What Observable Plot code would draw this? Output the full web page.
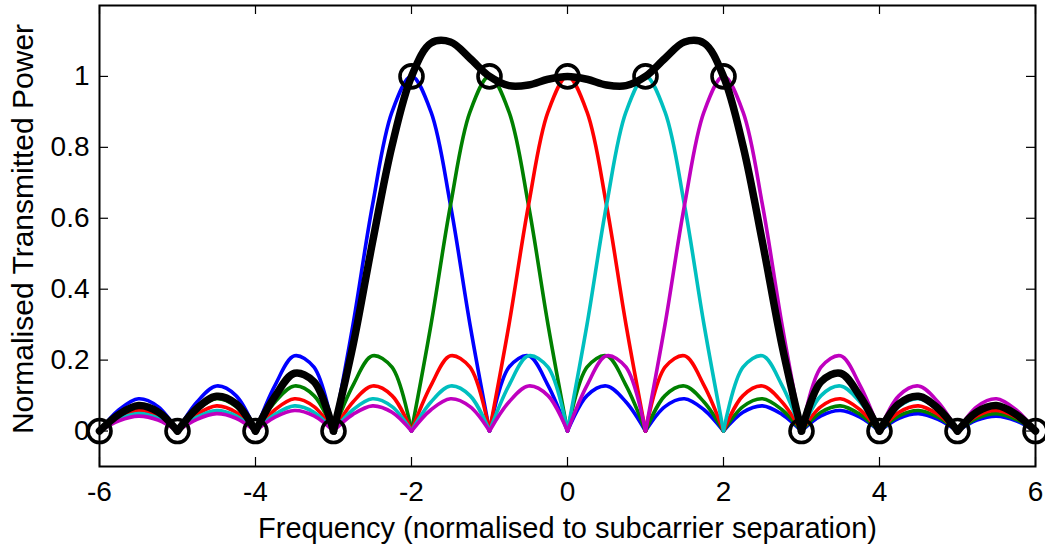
<!DOCTYPE html>
<html>
<head>
<meta charset="utf-8">
<script src="https://cdn.jsdelivr.net/npm/d3@7"></script>
<script src="https://cdn.jsdelivr.net/npm/@observablehq/plot@0.6"></script>
<style>
  html, body { margin: 0; padding: 0; background: #fff; }
  #chart svg { display: block; }
</style>
</head>
<body>
<div id="chart"></div>
<script>
// Frequency grid (normalised to subcarrier separation)
const freq = [-6,-5.75,-5.5,-5.25,-5,-4.75,-4.5,-4.25,-4,-3.75,-3.5,-3.25,-3,-2.75,-2.5,-2.25,-2,-1.75,-1.5,-1.25,-1,-0.75,-0.5,-0.25,0,0.25,0.5,0.75,1,1.25,1.5,1.75,2,2.25,2.5,2.75,3,3.25,3.5,3.75,4,4.25,4.5,4.75,5,5.25,5.5,5.75,6];

// Subcarrier spectra
const blueVals = [0,.060,.091,.069,0,.082,.127,.100,0,.129,.212,.180,0,.300,.637,.900,1,.900,.637,.300,0,.180,.212,.129,0,.100,.127,.082,0,.069,.091,.060,0,.053,.071,.047,0,.043,.058,.039,0,.036,.049,.033,0,.031,.042,.029,0];
const greenVals = [0,.047,.071,.053,0,.060,.091,.069,0,.082,.127,.100,0,.129,.212,.180,0,.300,.637,.900,1,.900,.637,.300,0,.180,.212,.129,0,.100,.127,.082,0,.069,.091,.060,0,.053,.071,.047,0,.043,.058,.039,0,.036,.049,.033,0];
const redVals = [0,.039,.058,.043,0,.047,.071,.053,0,.060,.091,.069,0,.082,.127,.100,0,.129,.212,.180,0,.300,.637,.900,1,.900,.637,.300,0,.180,.212,.129,0,.100,.127,.082,0,.069,.091,.060,0,.053,.071,.047,0,.043,.058,.039,0];
const cyanVals = [0,.033,.049,.036,0,.039,.058,.043,0,.047,.071,.053,0,.060,.091,.069,0,.082,.127,.100,0,.129,.212,.180,0,.300,.637,.900,1,.900,.637,.300,0,.180,.212,.129,0,.100,.127,.082,0,.069,.091,.060,0,.053,.071,.047,0];
const magentaVals = [0,.029,.042,.031,0,.033,.049,.036,0,.039,.058,.043,0,.047,.071,.053,0,.060,.091,.069,0,.082,.127,.100,0,.129,.212,.180,0,.300,.637,.900,1,.900,.637,.300,0,.180,.212,.129,0,.100,.127,.082,0,.069,.091,.060,0];
// Total transmitted spectrum
const totalVals = [0,.047,.072,.054,0,.064,.098,.077,0,.098,.163,.139,0,.241,.532,.804,1,1.094,1.097,1.051,1,.974,.976,.992,1,.992,.976,.974,1,1.051,1.097,1.094,1,.804,.532,.241,0,.139,.163,.098,0,.077,.098,.064,0,.054,.072,.047,0];

// Marker points
const markerX = [-6,-5,-4,-3,-2,-1,0,1,2,3,4,5,6];
const markerY = [0,0,0,0,1,1,1,1,1,0,0,0,0];

// Axis ticks and labels
const xTicks = [-6,-4,-2,0,2,4,6];
const yTicks = [0,0.2,0.4,0.6,0.8,1];
const xLabel = "Frequency (normalised to subcarrier separation)";
const yLabel = "Normalised Transmitted Power";

const series = [
  {name: "blue", vals: blueVals, color: "#0000ff", width: 3.6},
  {name: "green", vals: greenVals, color: "#008000", width: 3.6},
  {name: "red", vals: redVals, color: "#ff0000", width: 3.6},
  {name: "cyan", vals: cyanVals, color: "#00bfbf", width: 3.6},
  {name: "magenta", vals: magentaVals, color: "#bf00bf", width: 3.6},
  {name: "total", vals: totalVals, color: "#000000", width: 7.5}
];

// split each series into lobes at its nulls
function lobes(vals) {
  const rows = [];
  let seg = 0;
  vals.forEach((v, i) => {
    rows.push({x: freq[i], y: v, seg});
    if (v === 0 && i > 0 && i < vals.length - 1) {
      seg++;
      rows.push({x: freq[i], y: v, seg});
    }
  });
  return rows;
}

const W = 1045, H = 547;
const mL = 99, mR = 10, mT = 5, mB = 81;
const plotW = W - mL - mR, plotH = H - mT - mB;
const tickLen = 9;

const markers = markerX.map((x, i) => ({x, y: markerY[i]}));

const marks = [];
for (const s of series) {
  marks.push(Plot.line(lobes(s.vals), {
    x: "x", y: "y", z: "seg",
    stroke: s.color, strokeWidth: s.width,
    curve: "catmull-rom", strokeLinejoin: "round", strokeLinecap: "round"
  }));
}
marks.push(Plot.dot(markers, {x: "x", y: "y", r: 11.5, stroke: "#000", strokeWidth: 3.6, fill: "none"}));

// inward ticks on all four sides
marks.push(Plot.tickX(xTicks, {x: d => d, insetTop: plotH - tickLen, stroke: "#000", strokeWidth: 1.2}));
marks.push(Plot.tickX(xTicks, {x: d => d, insetBottom: plotH - tickLen, stroke: "#000", strokeWidth: 1.2}));
marks.push(Plot.tickY(yTicks, {y: d => d, insetRight: plotW - tickLen, stroke: "#000", strokeWidth: 1.2}));
marks.push(Plot.tickY(yTicks, {y: d => d, insetLeft: plotW - tickLen, stroke: "#000", strokeWidth: 1.2}));

marks.push(Plot.axisX(xTicks, {anchor: "bottom", tickSize: 0, tickPadding: 15, tickFormat: d => String(d), fontSize: 28, label: null}));
marks.push(Plot.axisY(yTicks, {anchor: "left", tickSize: 0, tickPadding: 10, tickFormat: d => String(d), fontSize: 28, label: null}));
marks.push(Plot.frame({stroke: "#000", strokeWidth: 2}));

marks.push(Plot.text([xLabel], {text: d => d, frameAnchor: "bottom", dy: 71, lineAnchor: "bottom", textAnchor: "middle", fontSize: 29, fill: "#000"}));
marks.push(Plot.text([yLabel], {text: d => d, frameAnchor: "left", dx: -67, dy: -7, rotate: -90, lineAnchor: "bottom", textAnchor: "middle", fontSize: 30, fill: "#000"}));

const chart = Plot.plot({
  width: W, height: H,
  marginLeft: mL, marginRight: mR, marginTop: mT, marginBottom: mB,
  x: {domain: [-6, 6], axis: null},
  y: {domain: [-0.1, 1.2], axis: null},
  style: {fontFamily: "'Liberation Sans', Arial, Helvetica, sans-serif", fontSize: "28px", color: "#000", background: "#fff", overflow: "visible"},
  marks
});
document.getElementById("chart").appendChild(chart);
</script>
</body>
</html>
